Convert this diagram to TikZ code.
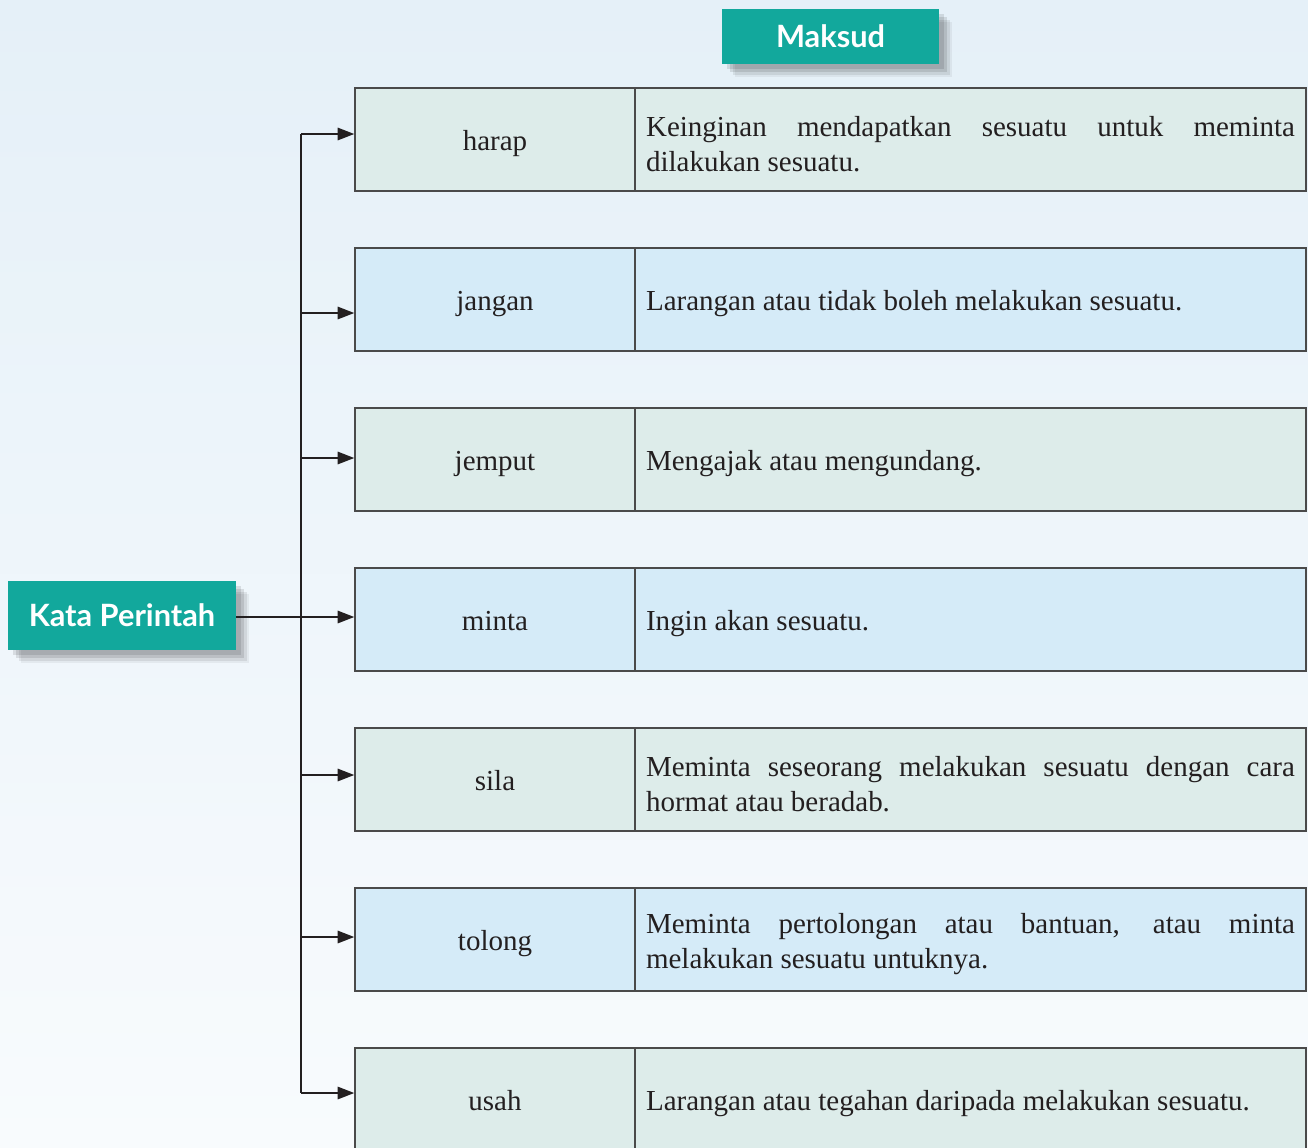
\documentclass[tikz,border=0pt]{standalone}
\usepackage{fontspec}
\setmainfont{Liberation Serif}
\newfontfamily\labelfont{Lato}
\usetikzlibrary{arrows.meta,shadows,calc}
\definecolor{teal1}{HTML}{12A89C}
\definecolor{rowgreen}{HTML}{DDECEA}
\definecolor{rowblue}{HTML}{D5EBF8}
\definecolor{bgtop}{HTML}{E5F0F8}
\definecolor{bgbot}{HTML}{F8FBFD}
\definecolor{edgegray}{HTML}{4A4A4A}
\definecolor{ink}{HTML}{231F20}
\newcommand\rowstrut{\rule[-0.16cm]{0pt}{0.74cm}}
\tikzset{
  titlebox/.style={fill=teal1, text=white, font=\labelfont\bfseries\fontsize{17.5}{20}\selectfont,
    inner sep=0pt,
    general shadow={shadow xshift=3pt, shadow yshift=-3pt, fill=black, opacity=0.10},
    general shadow={shadow xshift=4.5pt, shadow yshift=-4.5pt, fill=black, opacity=0.10},
    general shadow={shadow xshift=6pt, shadow yshift=-6pt, fill=black, opacity=0.08},
    general shadow={shadow xshift=7.5pt, shadow yshift=-7.5pt, fill=black, opacity=0.05}},
  wordcell/.style={draw=edgegray, line width=0.8pt, minimum width=5.6cm, minimum height=2.06cm,
    inner sep=0pt, text=ink, font=\fontsize{16.5}{19.8}\selectfont,
    execute at begin node={\rowstrut}},
  meancell/.style={draw=edgegray, line width=0.8pt, minimum width=13.42cm, minimum height=2.06cm,
    inner xsep=0.22cm, inner ysep=0pt, text width=12.98cm, align=justify, text=ink,
    font=\fontsize{16.5}{19.8}\selectfont, execute at begin node={\rowstrut}},
  conn/.style={draw=ink, line width=1.2pt},
  arr/.style={conn, -{Triangle[length=9.5pt,width=7pt]}},
  green/.style={fill=rowgreen},
  blue/.style={fill=rowblue}
}
\begin{document}
\begin{tikzpicture}[x=0.02cm,y=-0.02cm]
\useasboundingbox (0,0) rectangle (1308,1147);
\clip (0,0) rectangle (1308,1147);
\shade[top color=bgtop, bottom color=bgbot] (0,0) rectangle (1308,1147);

\node[titlebox, minimum width=4.34cm, minimum height=1.1cm] (maksud) at (830.5,36.5) {Maksud};
\node[titlebox, minimum width=4.56cm, minimum height=1.38cm] (kata) at (122,615.5) {Kata Perintah};

\node[wordcell, green] (harap) at (495,139.5) {harap};
\node[meancell, green] (harapm) at (970.5,139.5) {Keinginan mendapatkan sesuatu untuk meminta\linebreak dilakukan sesuatu.};
\node[wordcell, blue] (jangan) at (495,299.5) {jangan};
\node[meancell, blue] (janganm) at (970.5,299.5) {Larangan atau tidak boleh melakukan sesuatu.};
\node[wordcell, green] (jemput) at (495,459.5) {jemput};
\node[meancell, green] (jemputm) at (970.5,459.5) {Mengajak atau mengundang.};
\node[wordcell, blue] (minta) at (495,619.5) {minta};
\node[meancell, blue] (mintam) at (970.5,619.5) {Ingin akan sesuatu.};
\node[wordcell, green] (sila) at (495,779.5) {sila};
\node[meancell, green] (silam) at (970.5,779.5) {Meminta seseorang melakukan sesuatu dengan cara\linebreak hormat atau beradab.};
\node[wordcell, blue] (tolong) at (495,939.5) {tolong};
\node[meancell, blue] (tolongm) at (970.5,939.5) {Meminta pertolongan atau bantuan, atau minta\linebreak melakukan sesuatu untuknya.};
\node[wordcell, green] (usah) at (495,1099.5) {usah};
\node[meancell, green] (usahm) at (970.5,1099.5) {Larangan atau tegahan daripada melakukan sesuatu.};

\coordinate (t1) at (301,134);
\coordinate (t2) at (301,313);
\coordinate (t3) at (301,458);
\coordinate (t4) at (301,617);
\coordinate (t5) at (301,775);
\coordinate (t6) at (301,937);
\coordinate (t7) at (301,1093);

\draw[conn] (t1) -- (t7);
\draw[conn] (kata.east |- t4) -- (t4);
\draw[arr] (t1) -- (harap.west |- t1);
\draw[arr] (t2) -- (jangan.west |- t2);
\draw[arr] (t3) -- (jemput.west |- t3);
\draw[arr] (t4) -- (minta.west |- t4);
\draw[arr] (t5) -- (sila.west |- t5);
\draw[arr] (t6) -- (tolong.west |- t6);
\draw[arr] (t7) -- (usah.west |- t7);
\end{tikzpicture}
\end{document}
